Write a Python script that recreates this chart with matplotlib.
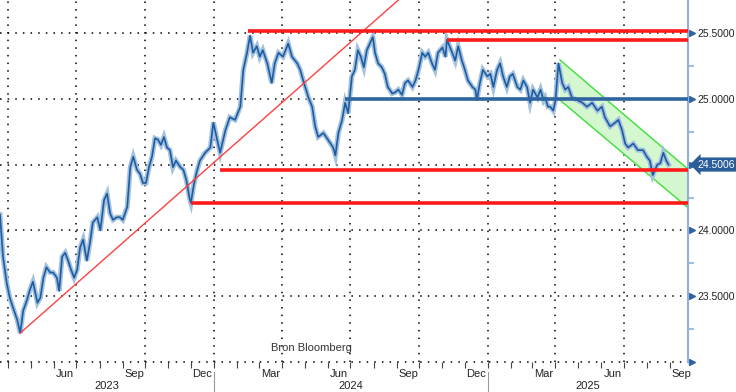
import matplotlib
matplotlib.use("Agg")
import matplotlib.pyplot as plt
import matplotlib.dates as mdates
import matplotlib.transforms as mtransforms
import pandas as pd

plt.rcParams['font.family'] = ['Liberation Sans', 'DejaVu Sans']

# koers
dates = [
    "2023-03-21", "2023-03-25", "2023-03-30", "2023-04-03", "2023-04-07", "2023-04-13", "2023-04-17",
    "2023-04-21", "2023-04-26", "2023-04-30", "2023-05-04", "2023-05-10", "2023-05-14", "2023-05-18",
    "2023-05-22", "2023-05-27", "2023-05-31", "2023-06-05", "2023-06-08", "2023-06-12", "2023-06-16",
    "2023-06-20", "2023-06-24", "2023-06-28", "2023-07-02", "2023-07-06", "2023-07-10", "2023-07-15",
    "2023-07-19", "2023-07-23", "2023-07-29", "2023-08-02", "2023-08-07", "2023-08-11", "2023-08-15",
    "2023-08-19", "2023-08-24", "2023-08-28", "2023-09-01", "2023-09-07", "2023-09-11", "2023-09-15",
    "2023-09-20", "2023-09-24", "2023-09-28", "2023-10-02", "2023-10-06", "2023-10-10", "2023-10-14",
    "2023-10-18", "2023-10-22", "2023-10-26", "2023-10-30", "2023-11-03", "2023-11-07", "2023-11-11",
    "2023-11-17", "2023-11-21", "2023-11-25", "2023-11-29", "2023-12-01", "2023-12-05", "2023-12-09",
    "2023-12-13", "2023-12-20", "2023-12-27", "2023-12-31", "2024-01-05", "2024-01-09", "2024-01-16",
    "2024-01-22", "2024-01-29", "2024-02-05", "2024-02-09", "2024-02-14", "2024-02-18", "2024-02-22",
    "2024-02-27", "2024-03-02", "2024-03-06", "2024-03-12", "2024-03-16", "2024-03-18", "2024-03-22",
    "2024-03-27", "2024-04-02", "2024-04-09", "2024-04-14", "2024-04-21", "2024-04-25", "2024-04-29",
    "2024-05-06", "2024-05-11", "2024-05-15", "2024-05-19", "2024-05-26", "2024-06-01", "2024-06-08",
    "2024-06-11", "2024-06-15", "2024-06-20", "2024-06-24", "2024-06-28", "2024-07-03", "2024-07-07",
    "2024-07-11", "2024-07-15", "2024-07-19", "2024-07-23", "2024-07-27", "2024-07-31", "2024-08-03",
    "2024-08-07", "2024-08-12", "2024-08-16", "2024-08-20", "2024-08-26", "2024-08-30", "2024-09-03",
    "2024-09-08", "2024-09-12", "2024-09-16", "2024-09-22", "2024-09-26", "2024-09-30", "2024-10-05",
    "2024-10-09", "2024-10-13", "2024-10-18", "2024-10-22", "2024-10-26", "2024-11-01", "2024-11-05",
    "2024-11-07", "2024-11-14", "2024-11-18", "2024-11-22", "2024-11-27", "2024-12-01", "2024-12-05",
    "2024-12-11", "2024-12-15", "2024-12-17", "2024-12-21", "2024-12-25", "2024-12-31", "2025-01-04",
    "2025-01-08", "2025-01-13", "2025-01-17", "2025-01-21", "2025-01-26", "2025-01-30", "2025-02-03",
    "2025-02-09", "2025-02-13", "2025-02-17", "2025-02-22", "2025-02-26", "2025-03-02", "2025-03-08",
    "2025-03-12", "2025-03-16", "2025-03-18", "2025-03-22", "2025-03-25", "2025-03-29", "2025-04-01",
    "2025-04-05", "2025-04-10", "2025-04-14", "2025-04-18", "2025-04-23", "2025-04-30", "2025-05-07",
    "2025-05-13", "2025-05-20", "2025-05-27", "2025-06-02", "2025-06-06", "2025-06-13", "2025-06-20",
    "2025-06-24", "2025-06-29", "2025-07-03", "2025-07-07", "2025-07-14", "2025-07-20", "2025-07-27",
    "2025-08-01", "2025-08-05", "2025-08-09", "2025-08-15", "2025-08-19", "2025-08-23", "2025-08-27",
    "2025-08-30",
]
koers = [
    24.12, 23.80, 23.60, 23.49, 23.42, 23.32, 23.22,
    23.39, 23.47, 23.55, 23.61, 23.45, 23.49, 23.64,
    23.72, 23.68, 23.68, 23.64, 23.54, 23.80, 23.83,
    23.77, 23.70, 23.64, 23.70, 23.87, 23.93, 23.77,
    23.90, 24.06, 24.10, 24.00, 24.23, 24.28, 24.13,
    24.08, 24.10, 24.10, 24.08, 24.18, 24.48, 24.56,
    24.46, 24.43, 24.36, 24.36, 24.48, 24.56, 24.70,
    24.69, 24.65, 24.71, 24.63, 24.61, 24.48, 24.53,
    24.48, 24.46, 24.38, 24.25, 24.21, 24.35, 24.45,
    24.53, 24.59, 24.63, 24.82, 24.69, 24.59, 24.76,
    24.86, 24.84, 24.94, 25.22, 25.35, 25.48, 25.35,
    25.40, 25.32, 25.37, 25.27, 25.17, 25.12, 25.27,
    25.35, 25.32, 25.42, 25.32, 25.27, 25.22, 25.14,
    25.01, 24.94, 24.79, 24.71, 24.74, 24.69, 24.63,
    24.57, 24.74, 24.84, 24.97, 24.89, 25.17, 25.22,
    25.37, 25.32, 25.24, 25.37, 25.42, 25.47, 25.35,
    25.27, 25.24, 25.19, 25.09, 25.04, 25.05, 25.07,
    25.03, 25.12, 25.14, 25.09, 25.14, 25.22, 25.35,
    25.32, 25.35, 25.27, 25.22, 25.35, 25.39, 25.32,
    25.45, 25.35, 25.29, 25.40, 25.29, 25.22, 25.14,
    25.09, 25.07, 24.99, 25.12, 25.22, 25.17, 25.19,
    25.09, 25.22, 25.27, 25.17, 25.09, 25.17, 25.19,
    25.09, 25.07, 25.14, 25.09, 24.97, 25.07, 25.01,
    25.07, 24.99, 25.01, 24.94, 24.94, 24.91, 24.99,
    25.27, 25.12, 25.07, 25.09, 25.01, 24.99, 24.97,
    24.94, 24.97, 24.91, 24.94, 24.86, 24.79, 24.82,
    24.84, 24.76, 24.66, 24.63, 24.66, 24.61, 24.61,
    24.56, 24.53, 24.42, 24.50, 24.51, 24.59, 24.53,
    24.50,
]
laatste = 24.5006

# horizontale niveaus: (startdatum, niveau, kleur)
niveaus = [
    ("2024-02-15", 25.515, "#ff1a1a"),
    ("2024-11-07", 25.447, "#ff1a1a"),
    ("2024-06-24", 25.000, "#2e64a0"),
    ("2024-01-09", 24.458, "#ff1a1a"),
    ("2023-12-01", 24.207, "#ff1a1a"),
]
# trendlijn
trend_datums = ["2023-04-17", "2024-09-03"]
trend_waarden = [23.22, 25.75]
# dalend kanaal
kanaal_datums = ["2025-04-07", "2025-09-24"]
kanaal_boven = [25.295, 24.47]
kanaal_onder = [24.99, 24.177]

y_ticks = [23.5, 24.0, 24.5, 25.0, 25.5]

x_start = pd.Timestamp("2023-03-21")
x_eind = pd.Timestamp("2025-09-25")

fig = plt.figure(figsize=(7.36, 3.92), dpi=100)
ax = fig.add_axes([0, 30 / 392, 688 / 736, 362 / 392])
ax.set_xlim(x_start, x_eind)
ax.set_ylim(23.0, 25.751)

d = pd.to_datetime(dates)
ax.plot(d, koers, color="#a3c1e0", lw=3.6, solid_joinstyle="miter", zorder=3)
ax.plot(d, koers, color="#1d5c9e", lw=1.2, zorder=4)

# kanaal
kd = pd.to_datetime(kanaal_datums)
ax.fill_between(kd, kanaal_onder, kanaal_boven, color="#d5f7d0", zorder=1)
ax.plot(kd, kanaal_boven, color="#3fe03f", lw=1, zorder=2)
ax.plot(kd, kanaal_onder, color="#3fe03f", lw=1, zorder=2)

# trendlijn
ax.plot(pd.to_datetime(trend_datums), trend_waarden, color="#ff4040", lw=1, zorder=5)

for start, niveau, kleur in niveaus:
    ax.plot([pd.Timestamp(start), x_eind], [niveau, niveau], color=kleur, lw=2.6,
            solid_capstyle="butt", zorder=5)

# rasterlijnen
for y in [23.0] + y_ticks:
    ax.axhline(y, color="black", lw=1.1, ls=(0, (1, 4)), zorder=0, clip_on=False)
for q in pd.date_range("2023-04-01", "2025-07-01", freq="QS"):
    ax.axvline(q, color="black", lw=1.1, ls=(0, (1, 4)), zorder=0)

for s in ["top", "left", "bottom"]:
    ax.spines[s].set_visible(False)
ax.spines["right"].set_color("#8fb0d8")
ax.spines["right"].set_linewidth(1.5)

# rechter as
ax.yaxis.tick_right()
ax.set_yticks(y_ticks)
ax.set_yticklabels([f"{v:.4f}" for v in y_ticks], fontsize=7.5, color="#222222")
ax.set_yticks([23.25, 23.75, 24.25, 24.75, 25.25], minor=True)
ax.tick_params(axis="y", which="major", length=0, pad=6.5)
ax.tick_params(axis="y", which="minor", length=4, color="#8fb0d8", width=1.2)
ytr = mtransforms.blended_transform_factory(ax.transAxes, ax.transData)
ax.plot([1.006] * len(y_ticks), y_ticks, ls="none", marker=">", ms=5, color="#2e64a0",
        transform=ytr, clip_on=False)
ax.plot([1.006], [23.0], ls="none", marker=">", ms=5, color="#2e64a0",
        transform=ytr, clip_on=False)

# laatste koers
ax.text(1.014, laatste, f"{laatste:.4f}", transform=ytr, fontsize=7.5, color="white",
        va="center", ha="left",
        bbox=dict(boxstyle="larrow,pad=0.2", fc="#2a5d9a", ec="none"))

# x-as
ax.xaxis.set_major_locator(mdates.MonthLocator())
ax.xaxis.set_major_formatter(plt.NullFormatter())
ax.tick_params(axis="x", which="major", length=4, color="#444444", width=0.8)
xtr = mtransforms.blended_transform_factory(ax.transData, ax.transAxes)
for m in pd.date_range("2023-03-01", "2025-09-01", freq="MS"):
    if m.month in (3, 6, 9, 12):
        mid = m + pd.Timedelta(days=15)
        if x_start < mid < x_eind:
            ax.text(mid, -0.033, m.strftime("%b"), transform=xtr, fontsize=8,
                    ha="center", va="center", color="#222222")

jaren = [2023, 2024, 2025]
for j in jaren:
    a = max(pd.Timestamp(f"{j}-01-01"), x_start)
    b = min(pd.Timestamp(f"{j + 1}-01-01"), x_eind)
    ax.text(a + (b - a) / 2, -0.066, str(j), transform=xtr, fontsize=8,
            ha="center", va="center", color="#222222")
    if j > 2023:
        ax.plot([pd.Timestamp(f"{j}-01-01")] * 2, [-0.028, -0.09], transform=xtr,
                color="#999999", lw=0.8, clip_on=False)

ax.text(0.453, 0.039, "Bron Bloomberg", transform=ax.transAxes, fontsize=8,
        ha="center", va="center", color="#333333")

fig.savefig("out.png", dpi=100)
